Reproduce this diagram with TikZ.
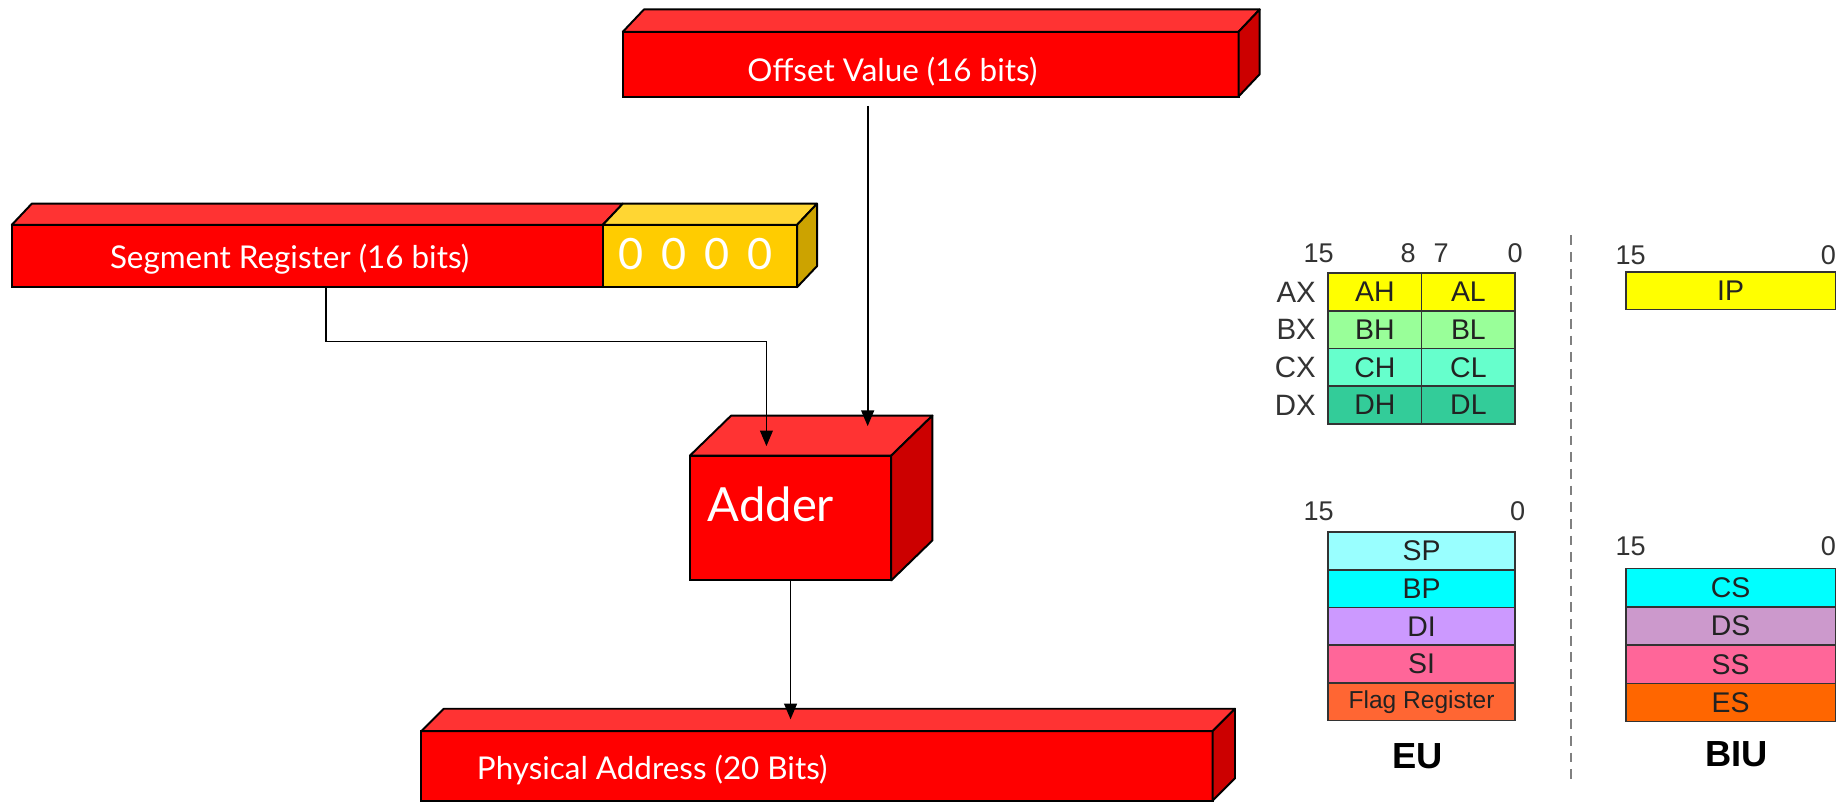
\documentclass[tikz,border=0pt]{standalone}
\usepackage{fontspec}
\setmainfont{Liberation Sans}
\newfontfamily\gillfont{Lato}
\usetikzlibrary{calc,arrows.meta}
\definecolor{redfront}{HTML}{FF0000}
\definecolor{redtop}{HTML}{FF3333}
\definecolor{redside}{HTML}{CC0000}
\definecolor{yelfront}{HTML}{FFCC00}
\definecolor{yeltop}{HTML}{FFD633}
\definecolor{yelside}{HTML}{CCA300}
\definecolor{regline}{HTML}{333333}
\definecolor{regtext}{HTML}{222222}
\definecolor{numgray}{HTML}{333333}
\definecolor{cAX}{HTML}{FFFF00}
\definecolor{cBX}{HTML}{99FF99}
\definecolor{cCX}{HTML}{66FFCC}
\definecolor{cDX}{HTML}{33CC99}
\definecolor{cSP}{HTML}{99FFFF}
\definecolor{cBP}{HTML}{00FFFF}
\definecolor{cDI}{HTML}{CC99FF}
\definecolor{cSI}{HTML}{FF6699}
\definecolor{cFL}{HTML}{FF6633}
\definecolor{cCS}{HTML}{00FFFF}
\definecolor{cDS}{HTML}{CC99CC}
\definecolor{cSS}{HTML}{FF6699}
\definecolor{cES}{HTML}{FF6600}
\begin{document}
\begin{tikzpicture}[x=0.6pt,y=-0.6pt,
  facefront/.style={draw=black, line width=1pt, inner sep=0pt, outer sep=0pt, anchor=north west},
  faceside/.style={draw=black, line width=1pt, line join=round},
  boxtext/.style={text=white, font=\gillfont\fontsize{16}{16}\selectfont, inner sep=0pt},
  conn/.style={draw=black, line width=0.9pt, -{Triangle[length=8pt,width=6.5pt]}},
  cell/.style={draw=regline, line width=0.8pt, inner sep=0pt, outer sep=0pt, anchor=north west, font=\fontsize{14.5}{14.5}\selectfont, text=regtext},
  bitnum/.style={font=\fontsize{13.8}{13.8}\selectfont, text=numgray, inner sep=0pt},
  reglab/.style={font=\fontsize{15}{15}\selectfont, text=numgray, inner sep=0pt, anchor=east},
  unitlab/.style={font=\bfseries\fontsize{18.5}{18.5}\selectfont, text=black, inner sep=0pt}
]
\useasboundingbox (0,0) rectangle (1568,681);

% ---------- Offset Value box ----------
\node[facefront, fill=redfront, minimum width={523*0.6pt}, minimum height={55*0.6pt}] (off) at (529,27) {};
\filldraw[faceside, fill=redtop] (off.north west) -- ++(18,-19) -- ($(off.north east)+(18,-19)$) -- (off.north east) -- cycle;
\filldraw[faceside, fill=redside] (off.north east) -- ++(18,-19) -- ($(off.south east)+(18,-19)$) -- (off.south east) -- cycle;
\node[boxtext] (offtxt) at (758,61) {Offset Value (16 bits)};

% ---------- Segment Register box ----------
\node[facefront, fill=redfront, minimum width={502*0.6pt}, minimum height={53*0.6pt}] (seg) at (10,191) {};
\node[facefront, fill=yelfront, minimum width={165*0.6pt}, minimum height={53*0.6pt}] (zeros) at (seg.north east) {};
\filldraw[faceside, fill=redtop] (seg.north west) -- ++(17,-18) -- ($(seg.north east)+(17,-18)$) -- (seg.north east) -- cycle;
\filldraw[faceside, fill=yeltop] (zeros.north west) -- ++(17,-18) -- ($(zeros.north east)+(17,-18)$) -- (zeros.north east) -- cycle;
\filldraw[faceside, fill=yelside] (zeros.north east) -- ++(17,-18) -- ($(zeros.south east)+(17,-18)$) -- (zeros.south east) -- cycle;
\node[boxtext] (segtxt) at (246,220) {Segment Register (16 bits)};
\node[boxtext, font=\gillfont\fontsize{22}{22}\selectfont] (zerotxt) at (591,216) {\spaceskip=0.42em 0 0 0 0};

% ---------- Adder box ----------
\node[facefront, fill=redfront, minimum width={171*0.6pt}, minimum height={106*0.6pt}] (add) at (586,387) {};
\filldraw[faceside, fill=redtop] (add.north west) -- ++(35,-34) -- ($(add.north east)+(35,-34)$) -- (add.north east) -- cycle;
\filldraw[faceside, fill=redside] (add.north east) -- ++(35,-34) -- ($(add.south east)+(35,-34)$) -- (add.south east) -- cycle;
\node[boxtext, font=\gillfont\fontsize{24}{24}\selectfont, anchor=west] (addtxt) at (601,428) {Adder};

% ---------- Physical Address box ----------
\node[facefront, fill=redfront, minimum width={672*0.6pt}, minimum height={59*0.6pt}] (phys) at (358,621) {};
\filldraw[faceside, fill=redtop] (phys.north west) -- ++(19,-19) -- ($(phys.north east)+(19,-19)$) -- (phys.north east) -- cycle;
\filldraw[faceside, fill=redside] (phys.north east) -- ++(19,-19) -- ($(phys.south east)+(19,-19)$) -- (phys.south east) -- cycle;
\node[boxtext] (phystxt) at (554,654) {Physical Address (20 Bits)};

% ---------- Connectors ----------
\coordinate (segout) at (277,244);
\coordinate (addinA) at (651,379);
\coordinate (offout) at (737,90);
\coordinate (addinB) at (737,362);
\path (add.south) ++(0,118) coordinate (physin);
\draw[conn] (segout) -- ++(0,46) -| (addinA);
\draw[conn] (offout) -- (addinB);
\draw[conn] (add.south) -- (physin);

% ---------- General purpose registers ----------
\node[bitnum] (g15) at (1120,215) {15};
\node[bitnum] (g8) at (1196,215) {8};
\node[bitnum] (g7) at (1224,215) {7};
\node[bitnum] (g0) at (1287,215) {0};
\node[cell, fill=cAX, minimum width={79.5*0.6pt}, minimum height={32*0.6pt}] (ah) at (1128,232) {AH};
\node[cell, fill=cAX, minimum width={79.5*0.6pt}, minimum height={32*0.6pt}] (al) at (ah.north east) {AL};
\node[cell, fill=cBX, minimum width={79.5*0.6pt}, minimum height={32*0.6pt}] (bh) at (ah.south west) {BH};
\node[cell, fill=cBX, minimum width={79.5*0.6pt}, minimum height={32*0.6pt}] (bl) at (bh.north east) {BL};
\node[cell, fill=cCX, minimum width={79.5*0.6pt}, minimum height={32*0.6pt}] (ch) at (bh.south west) {CH};
\node[cell, fill=cCX, minimum width={79.5*0.6pt}, minimum height={32*0.6pt}] (cl) at (ch.north east) {CL};
\node[cell, fill=cDX, minimum width={79.5*0.6pt}, minimum height={32*0.6pt}] (dh) at (ch.south west) {DH};
\node[cell, fill=cDX, minimum width={79.5*0.6pt}, minimum height={32*0.6pt}] (dl) at (dh.north east) {DL};
\node[reglab] (ax) at (1118,248) {AX};
\node[reglab] (bx) at (1118,280) {BX};
\node[reglab] (cx) at (1118,312) {CX};
\node[reglab] (dx) at (1118,344) {DX};

% ---------- EU pointer / index registers ----------
\node[bitnum] (e15) at (1120,434) {15};
\node[bitnum] (e0) at (1289,434) {0};
\node[cell, fill=cSP, minimum width={159*0.6pt}, minimum height={32*0.6pt}] (sp) at (1128,452) {SP};
\node[cell, fill=cBP, minimum width={159*0.6pt}, minimum height={32*0.6pt}] (bp) at (sp.south west) {BP};
\node[cell, fill=cDI, minimum width={159*0.6pt}, minimum height={32*0.6pt}] (di) at (bp.south west) {DI};
\node[cell, fill=cSI, minimum width={159*0.6pt}, minimum height={32*0.6pt}] (si) at (di.south west) {SI};
\node[cell, fill=cFL, minimum width={159*0.6pt}, minimum height={32*0.6pt}, font=\fontsize{12.5}{12.5}\selectfont] (flag) at (si.south west) {Flag Register};
\node[unitlab] (eu) at (1204,642) {EU};

% ---------- Divider ----------
\draw[draw=gray, line width=1pt, dash pattern=on 5pt off 3.5pt] (1334,200) -- (1334,665);

% ---------- BIU registers ----------
\node[bitnum] (i15) at (1385,217) {15};
\node[bitnum] (i0) at (1553,217) {0};
\node[cell, fill=cAX, minimum width={178*0.6pt}, minimum height={32*0.6pt}] (ip) at (1381,231) {IP};
\node[bitnum] (s15) at (1385,464) {15};
\node[bitnum] (s0) at (1553,464) {0};
\node[cell, fill=cCS, minimum width={178*0.6pt}, minimum height={32.5*0.6pt}] (cs) at (1381,483) {CS};
\node[cell, fill=cDS, minimum width={178*0.6pt}, minimum height={32.5*0.6pt}] (ds) at (cs.south west) {DS};
\node[cell, fill=cSS, minimum width={178*0.6pt}, minimum height={32.5*0.6pt}] (ss) at (ds.south west) {SS};
\node[cell, fill=cES, minimum width={178*0.6pt}, minimum height={32.5*0.6pt}] (es) at (ss.south west) {ES};
\node[unitlab] (biu) at (1475,641) {BIU};
\end{tikzpicture}
\end{document}
